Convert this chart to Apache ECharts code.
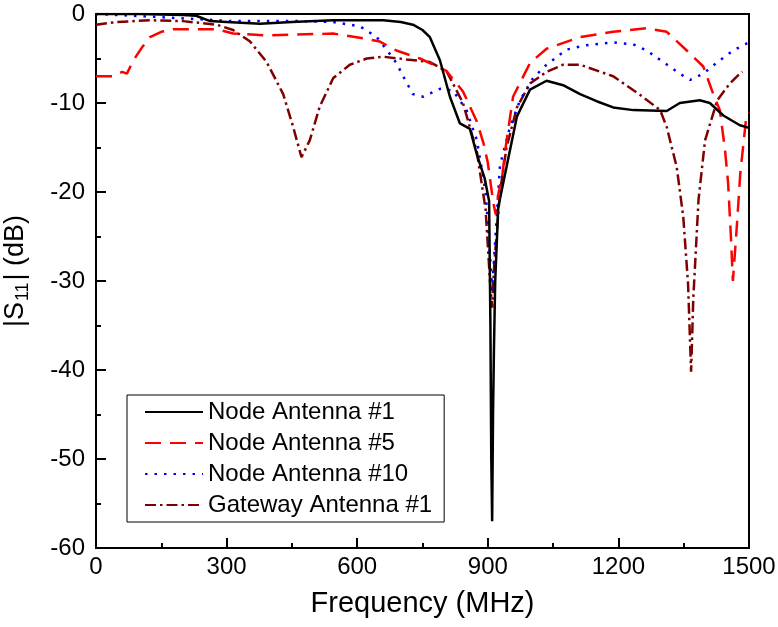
<!DOCTYPE html>
<html>
<head>
<meta charset="utf-8">
<script src="https://cdn.jsdelivr.net/npm/echarts@6/dist/echarts.min.js"></script>
<style>
    html, body { margin: 0; padding: 0; background: #fff; }
    #chart { width: 778px; height: 627px; }
</style>
</head>
<body>
<div id="chart"></div>
<script>
// 频率 (MHz) 与 |S11| (dB)
var freqNode1 = [0, 100, 200, 230, 262, 300, 377, 450, 545, 660, 700, 728, 750, 767, 790, 813, 836, 859, 875, 893, 903, 906, 908, 910, 912, 914, 917, 924, 943, 967, 997, 1035, 1073, 1112, 1150, 1188, 1234, 1311, 1341, 1387, 1410, 1441, 1479, 1500];
var s11Node1 = [0, 0, -0.1, -0.2, -0.8, -0.9, -1.1, -0.9, -0.7, -0.7, -0.9, -1.2, -1.8, -2.6, -5.2, -9.3, -12.3, -12.9, -15.8, -18.5, -21, -35, -50, -57, -45, -38, -30, -21.7, -17.2, -11.5, -8.5, -7.5, -8, -9, -9.8, -10.5, -10.8, -10.9, -10, -9.7, -10, -11.4, -12.5, -12.8];

var freqNode5 = [0, 40, 60, 71, 86, 105, 124, 150, 178, 277, 315, 392, 545, 622, 652, 690, 744, 805, 843, 875, 890, 900, 912, 918, 925, 933, 940, 958, 997, 1035, 1112, 1188, 1265, 1311, 1357, 1395, 1418, 1433, 1445, 1452, 1458, 1463, 1472, 1480, 1493, 1500];
var s11Node5 = [-7.0, -7.0, -6.5, -6.7, -5.2, -3.8, -2.6, -2.0, -1.7, -1.7, -2.2, -2.4, -2.2, -2.8, -3.1, -4.1, -5.0, -6.4, -8.7, -12.1, -14.5, -16.7, -21, -22.5, -20, -18.3, -15.3, -9.3, -5.5, -3.9, -2.6, -2.0, -1.6, -2.0, -4.1, -5.9, -9, -10.8, -15.3, -19, -24.6, -30, -23.9, -17.9, -11.9, -11];

var freqNode10 = [0, 86, 163, 239, 315, 469, 545, 607, 645, 675, 690, 710, 728, 752, 790, 820, 851, 875, 895, 905, 910, 915, 928, 951, 974, 1004, 1035, 1081, 1127, 1188, 1234, 1265, 1303, 1341, 1365, 1395, 1433, 1464, 1495, 1500];
var s11Node10 = [0, -0.2, -0.4, -0.6, -0.8, -0.8, -0.9, -1.4, -2.6, -4.5, -5.5, -7.4, -9, -9.3, -8.4, -8.6, -10.8, -14.2, -20, -27, -31, -27, -17, -12.7, -9.7, -7.2, -5.7, -4.0, -3.5, -3.2, -3.4, -4.1, -5.4, -6.7, -7.4, -6.7, -5.2, -4.1, -3.3, -3.2];

var freqGateway1 = [0, 48, 124, 200, 277, 315, 354, 392, 430, 453, 472, 491, 514, 545, 583, 622, 660, 713, 767, 805, 843, 875, 895, 905, 910, 915, 928, 943, 967, 997, 1035, 1073, 1112, 1188, 1250, 1296, 1311, 1334, 1349, 1360, 1367, 1372, 1384, 1399, 1427, 1456, 1479, 1485];
var s11Gateway1 = [-1.2, -0.9, -0.7, -0.8, -1.2, -1.8, -3.1, -5.4, -9, -12.7, -16.1, -14.2, -10.4, -7.2, -5.7, -5.0, -4.8, -5.1, -5.4, -6.4, -10, -15.5, -22, -30, -33, -28, -20, -15, -10.5, -7.8, -6.5, -5.7, -5.7, -7.0, -9.1, -10.8, -12.7, -17.2, -22.8, -30.3, -40.2, -32, -20.9, -14.2, -9.7, -7.8, -6.7, -6.5];

var seriesNames = ["Node Antenna #1", "Node Antenna #5", "Node Antenna #10", "Gateway Antenna #1"];
var xTicks = [0, 300, 600, 900, 1200, 1500];
var yTicks = [0, -10, -20, -30, -40, -50, -60];

function zip(xs, ys) {
    var out = [];
    for (var i = 0; i < xs.length; i++) {
        out.push([xs[i], ys[i]]);
    }
    return out;
}

var chart = echarts.init(document.getElementById('chart'));

var fontName = 'Liberation Sans, Arial, sans-serif';

var option = {
    backgroundColor: '#fff',
    animation: false,
    textStyle: { fontFamily: fontName, color: '#000' },
    grid: {
        left: 96,
        right: 29,
        top: 14,
        bottom: 79,
        outerBoundsMode: 'none',
        containLabel: false,
        show: true,
        borderColor: '#000',
        borderWidth: 2
    },
    legend: {
        data: seriesNames,
        orient: 'vertical',
        left: 127,
        top: 395,
        align: 'left',
        backgroundColor: '#fff',
        borderColor: '#000',
        borderWidth: 1,
        borderRadius: 0,
        padding: [5, 12, 5, 17],
        itemGap: 7,
        itemWidth: 58,
        itemHeight: 24,
        itemStyle: { opacity: 0 },
        textStyle: { fontSize: 24, color: '#000', fontFamily: fontName }
    },
    xAxis: {
        type: 'value',
        min: xTicks[0],
        max: xTicks[xTicks.length - 1],
        interval: 300,
        name: 'Frequency (MHz)',
        nameLocation: 'middle',
        nameGap: 41,
        nameTextStyle: { fontSize: 29, color: '#000', fontFamily: fontName },
        axisLine: { show: true, onZero: false, lineStyle: { color: '#000', width: 2 } },
        axisTick: { show: true, inside: true, length: 10, lineStyle: { color: '#000', width: 2 } },
        minorTick: { show: true, splitNumber: 2, length: 5, lineStyle: { color: '#000', width: 2 } },
        axisLabel: {
            fontSize: 24, color: '#000', margin: 7, fontFamily: fontName,
            formatter: function (v) { return String(v); }
        },
        splitLine: { show: false }
    },
    yAxis: {
        type: 'value',
        min: yTicks[yTicks.length - 1],
        max: yTicks[0],
        interval: 10,
        name: '{n||S}{s|11}{n|| (dB)}',
        nameLocation: 'middle',
        nameGap: 64,
        nameTextStyle: {
            fontFamily: fontName,
            padding: [0, 0, 0, 20],
            rich: {
                n: { fontSize: 27, color: '#000', fontFamily: fontName, lineHeight: 32 },
                s: { fontSize: 18, color: '#000', fontFamily: fontName, verticalAlign: 'bottom', lineHeight: 32, padding: [14, 2, 0, 1] }
            }
        },
        axisLine: { show: true, onZero: false, lineStyle: { color: '#000', width: 2 } },
        axisTick: { show: true, inside: true, length: 10, lineStyle: { color: '#000', width: 2 } },
        minorTick: { show: true, splitNumber: 2, length: 5, lineStyle: { color: '#000', width: 2 } },
        axisLabel: { fontSize: 24, color: '#000', margin: 11, fontFamily: fontName },
        splitLine: { show: false }
    },
    series: [
        {
            name: seriesNames[0],
            type: 'line',
            symbol: 'none',
            data: zip(freqNode1, s11Node1),
            lineStyle: { color: '#000', width: 2.5, type: 'solid' },
            itemStyle: { color: '#000' },
            z: 5
        },
        {
            name: seriesNames[1],
            type: 'line',
            symbol: 'none',
            data: zip(freqNode5, s11Node5),
            lineStyle: { color: '#ff0000', width: 2.5, type: [16, 9] },
            itemStyle: { color: '#ff0000' },
            z: 4
        },
        {
            name: seriesNames[2],
            type: 'line',
            symbol: 'none',
            data: zip(freqNode10, s11Node10),
            lineStyle: { color: '#0000ff', width: 2.5, type: [2.5, 7] },
            itemStyle: { color: '#0000ff' },
            z: 3
        },
        {
            name: seriesNames[3],
            type: 'line',
            symbol: 'none',
            data: zip(freqGateway1, s11Gateway1),
            lineStyle: { color: '#800000', width: 2.5, type: [11, 4, 2.5, 4] },
            itemStyle: { color: '#800000' },
            z: 2
        }
    ]
};

chart.setOption(option);
</script>
</body>
</html>
